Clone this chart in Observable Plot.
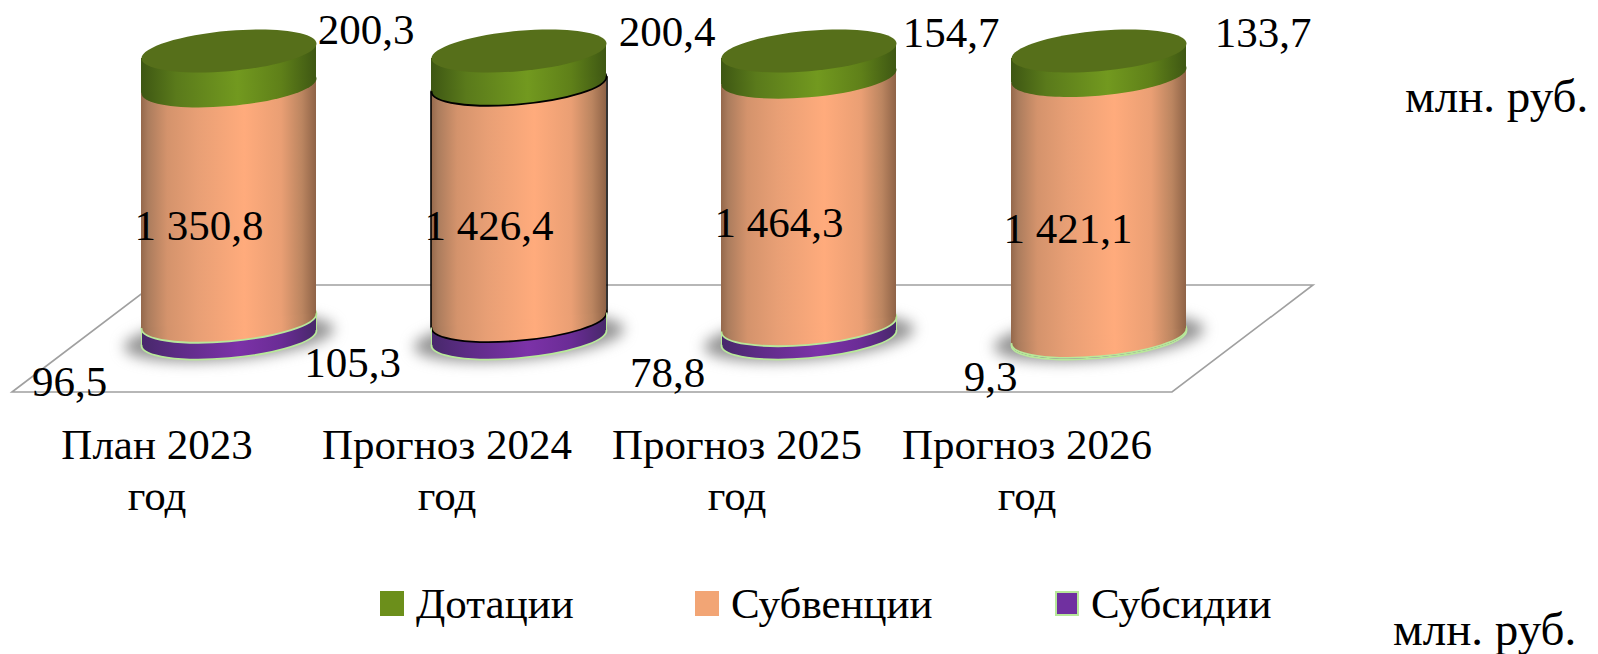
<!DOCTYPE html>
<html lang="ru">
<head>
<meta charset="utf-8">
<script src="https://cdn.jsdelivr.net/npm/d3@7"></script>
<script src="https://cdn.jsdelivr.net/npm/@observablehq/plot@0.6"></script>
<style>
  html, body { margin: 0; padding: 0; background: #fff; overflow: hidden; }
  #chart { position: relative; width: 1598px; height: 654px; font-family: "Liberation Serif", serif; color: #000; }
  #chart svg { display: block; }
  .unit { position: absolute; font-size: 47px; line-height: 1; white-space: nowrap; }
  .legend-item { position: absolute; top: 578px; height: 50px; display: flex; align-items: center; font-size: 43px; white-space: nowrap; }
  .legend-item i { display: block; width: 24px; height: 25px; margin-right: 12px; box-sizing: border-box; margin-top: 0; }
</style>
</head>
<body>
<div id="chart"></div>
<script>
const categories = ["План 2023\nгод", "Прогноз 2024\nгод", "Прогноз 2025\nгод", "Прогноз 2026\nгод"];
const series = ["Субсидии", "Субвенции", "Дотации"];
const subsidies = [96.5, 105.3, 78.8, 9.3];
const subventions = [1350.8, 1426.4, 1464.3, 1421.1];
const grants = [200.3, 200.4, 154.7, 133.7];
const legendOrder = ["Дотации", "Субвенции", "Субсидии"];
const unitLabel = "млн. руб.";

const values = {"Субсидии": subsidies, "Субвенции": subventions, "Дотации": grants};
const rows = series.flatMap(s => categories.map((c, i) => ({cat: c, series: s, value: values[s][i], col: i})));

const fmt = d3.formatLocale({decimal: ",", thousands: " ", grouping: [3]}).format(",.1f");
const stack = o => ({x: "cat", y: "value", z: "series", order: series, offset: "normalize", ...o});

// Cylinder tilt (slope of the perspective) and ellipse shapes
const tilt = -0.0857;
const rx = 87.5, ry = 20.15;
function ellipse(a, b) {
  const K = 0.5523;
  const p = (x, y) => [x, y + tilt * x];
  return {
    draw(c) {
      c.moveTo(...p(a, 0));
      c.bezierCurveTo(...p(a, K * b), ...p(K * a, b), ...p(0, b));
      c.bezierCurveTo(...p(-K * a, b), ...p(-a, K * b), ...p(-a, 0));
      c.bezierCurveTo(...p(-a, -K * b), ...p(-K * a, -b), ...p(0, -b));
      c.bezierCurveTo(...p(K * a, -b), ...p(a, -K * b), ...p(a, 0));
      c.closePath();
    }
  };
}
const skewBars = (index, scales, vals, dims, ctx, next) => {
  const g = next(index, scales, vals, dims, ctx);
  const deg = Math.atan(tilt) * 180 / Math.PI;
  d3.select(g).selectAll("rect").attr("transform", function () {
    const cx = +this.getAttribute("x") + +this.getAttribute("width") / 2;
    return `translate(${cx},0) skewY(${deg}) translate(${-cx},0)`;
  });
  return g;
};
const blur = (index, scales, vals, dims, ctx, next) => {
  const g = next(index, scales, vals, dims, ctx);
  g.style.filter = "blur(7px)";
  return g;
};

const gradient = (id, stops) => `<linearGradient id="${id}" x1="0" x2="1" y1="0" y2="0">` +
  stops.map(([o, c]) => `<stop offset="${o}" stop-color="${c}"/>`).join("") + `</linearGradient>`;
const defsMark = () => {
  const g = document.createElementNS("http://www.w3.org/2000/svg", "g");
  g.innerHTML = "<defs>" +
    gradient("gOrange", [[0, "#94684b"], [0.04, "#ab7c5d"], [0.15, "#d4936c"], [0.32, "#e89f75"], [0.59, "#ffab7c"], [0.8, "#ea9f74"], [0.92, "#bb8560"], [1, "#8f6347"]]) +
    gradient("gGreen", [[0, "#3e5713"], [0.2, "#5a7a1b"], [0.55, "#72991f"], [0.8, "#5f8019"], [1, "#3e5713"]]) +
    gradient("gPurple", [[0, "#47286a"], [0.2, "#5c2c85"], [0.55, "#7c32a8"], [0.8, "#6a2c95"], [1, "#47286a"]]) +
    "</defs>";
  return g;
};
const floorMark = (index, {x, y}) => {
  const left = x(categories[0]);
  const base = y(0);
  const pts = [[left - 129, base + 54.5], [left + 12, base - 52.5], [left + 1172, base - 52.5], [left + 1031, base + 54.5]];
  const p = document.createElementNS("http://www.w3.org/2000/svg", "path");
  p.setAttribute("d", "M" + pts.join("L") + "Z");
  p.setAttribute("fill", "#fff");
  p.setAttribute("stroke", "#a0a0a0");
  p.setAttribute("stroke-width", 1.6);
  return p;
};

const isSeries = s => d => d.series === s;
const strokeFor = {
  "Субсидии": () => "#b8e89a",
  "Субвенции": d => d.col === 1 ? "#000" : "#b8e89a",
  "Дотации": d => d.col === 1 ? "#000" : "none"
};
const gradFor = {"Субсидии": "url(#gPurple)", "Субвенции": "url(#gOrange)", "Дотации": "url(#gGreen)"};

const layers = series.flatMap(s => [
  Plot.dot(rows, Plot.filter(isSeries(s), Plot.stackY1(stack({
    symbol: ellipse(rx, ry), fill: gradFor[s], stroke: strokeFor[s], strokeWidth: 1.8
  })))),
  Plot.barY(rows, Plot.filter(isSeries(s), Plot.stackY(stack({
    fill: gradFor[s], render: skewBars
  }))))
]);

// Black outline of the selected cylinder and pale outline of the purple base
const sideRules = [-1, 1].flatMap(side => [
  Plot.ruleX(rows, Plot.filter(d => d.series === "Субвенции" && d.col === 1, Plot.stackY(stack({
    stroke: "#000", strokeWidth: 1.6, dx: side * 88, dy: side * tilt * 88
  })))),
  Plot.ruleX(rows, Plot.filter(isSeries("Субсидии"), Plot.stackY(stack({
    stroke: "#b8e89a", strokeWidth: 1, dx: side * 87.5, dy: side * tilt * 87.5
  }))))
]);

// Data label placement around each cylinder
const labelOffsets = {
  "Субсидии": [[-159.5, 53], [-166.5, 34], [-141.5, 42], [-108.5, 40]],
  "Субвенции": [[-30, 23], [-30, 24], [-30, 22], [-31, 23]],
  "Дотации": [[137, -38], [148, -35], [142, -31], [164, -30]]
};
const labels = series.flatMap(s => categories.map((c, i) =>
  Plot.text(rows, Plot.filter(d => d.series === s && d.col === i, Plot.stackY(stack({
    text: d => fmt(d.value), fontSize: 43, fill: "#000",
    dx: labelOffsets[s][i][0], dy: labelOffsets[s][i][1]
  }))))
));

const chart = Plot.plot({
  width: 1598, height: 654,
  marginTop: 0, marginRight: 0, marginBottom: 0, marginLeft: 0,
  style: {fontFamily: "'Liberation Serif', serif", background: "transparent", overflow: "visible"},
  x: {type: "band", domain: categories, range: [83.5, 1243.5], paddingInner: 0.3966, paddingOuter: 0.1983, align: 0.5, axis: null},
  y: {domain: [0, 1], range: [337.5, 50.5], axis: null},
  color: {type: "identity"},
  marks: [
    defsMark,
    floorMark,
    Plot.dot(categories, {x: d => d, y: () => 0, symbol: ellipse(105, 22), fill: "#7a7a7a", fillOpacity: 0.8, render: blur}),
    ...layers,
    ...sideRules,
    Plot.dot(categories, {x: d => d, y: () => 1, symbol: ellipse(rx, ry), fill: "#566f1a"}),
    Plot.text(categories, {x: d => d, y: () => 0, text: d => d, dx: -72, dy: 130, fontSize: 43, lineHeight: 1.2, fill: "#000"}),
    ...labels
  ]
});

const root = document.getElementById("chart");
root.appendChild(chart);

// Legend and unit captions
const legendSwatch = {
  "Дотации": {bg: "#6c8f1b", border: "none"},
  "Субвенции": {bg: "#f2a575", border: "none"},
  "Субсидии": {bg: "#7030a0", border: "2px solid #b8e89a"}
};
const legendLeft = [380, 695, 1055];
legendOrder.forEach((name, i) => {
  const item = document.createElement("div");
  item.className = "legend-item";
  item.style.left = legendLeft[i] + "px";
  const sw = document.createElement("i");
  sw.style.background = legendSwatch[name].bg;
  sw.style.border = legendSwatch[name].border;
  item.appendChild(sw);
  item.appendChild(document.createTextNode(name));
  root.appendChild(item);
});
[[1405, 73], [1393, 606]].forEach(([l, t]) => {
  const u = document.createElement("div");
  u.className = "unit";
  u.style.left = l + "px";
  u.style.top = t + "px";
  u.textContent = unitLabel;
  root.appendChild(u);
});
</script>
</body>
</html>
